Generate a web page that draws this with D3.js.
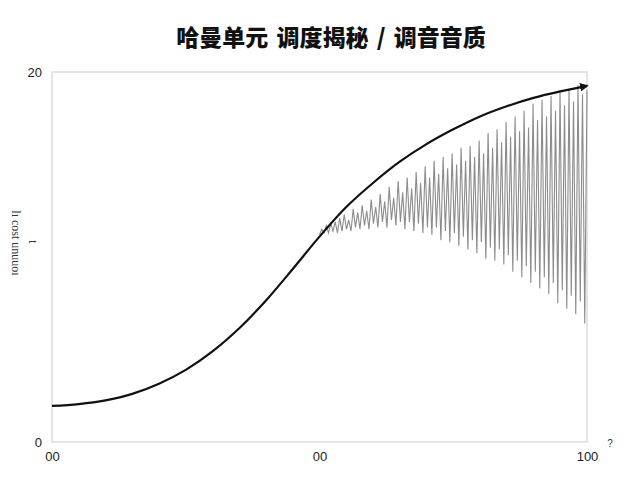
<!DOCTYPE html>
<html>
<head>
<meta charset="utf-8">
<script src="https://cdn.jsdelivr.net/npm/d3@7/dist/d3.min.js"></script>
<style>
  html, body { margin: 0; padding: 0; background: #fff; }
  svg { display: block; }
</style>
</head>
<body>
<svg id="chart" width="640" height="480"></svg>
<script>
// ---- data ----
const titleText = "哈曼单元 调度揭秘 / 调音音质";
const yAxisLabel = "lı cost unuuoı";
const yAxisSubLabel = "t";
const xTickValues = [0, 50, 100];
const xTickLabels = ["00", "00", "100"];
const yTickValues = [0, 20];
const yTickLabels = ["0", "20"];
const cornerMark = "?";

// smooth sigmoid-like black curve (x, y)
const curveX = [0, 5, 10, 15, 20, 25, 30, 35, 40, 45, 50, 55, 60, 65, 70, 75, 80, 85, 90, 95, 100];
const curveY = [1.95, 2.05, 2.25, 2.6, 3.15, 3.9, 4.9, 6.15, 7.65, 9.35, 11.1, 12.7, 14.0, 15.15, 16.1, 16.9, 17.6, 18.15, 18.6, 18.95, 19.25];

// oscillating grey series from x = 50 to x = 100
const oscY = [
  11.2, 11.5, 11.3, 11.7, 11.3, 11.8, 11.4, 11.9, 11.3, 12.1,
  11.4, 12.3, 11.5, 12.0, 11.4, 12.6, 11.6, 12.4, 11.5, 12.8,
  11.7, 12.5, 11.5, 13.1, 11.8, 12.7, 11.6, 13.4, 11.9, 13.0,
  11.6, 13.8, 12.0, 13.2, 11.7, 14.1, 11.9, 13.5, 11.5, 14.3,
  11.9, 13.7, 11.4, 14.6, 11.8, 14.0, 11.3, 14.9, 11.6, 14.3,
  11.2, 15.2, 11.6, 14.5, 10.9, 15.4, 11.4, 14.8, 10.8, 15.6,
  11.3, 15.0, 10.6, 15.9, 11.1, 15.2, 10.4, 16.0, 10.9, 15.4,
  10.2, 16.3, 10.8, 15.6, 9.9, 16.7, 10.5, 15.9, 9.8, 16.9,
  10.4, 16.2, 9.6, 17.3, 10.1, 16.5, 9.2, 17.6, 9.8, 16.8,
  8.9, 17.9, 9.5, 17.0, 8.6, 18.3, 9.2, 17.4, 8.3, 18.5,
  8.9, 17.6, 8.0, 18.7, 8.6, 17.9, 7.5, 19.0, 8.2, 18.2,
  7.2, 19.1, 7.9, 18.4, 6.9, 19.3, 7.6, 18.8, 6.4, 19.0
];
const oscStart = 50, oscEnd = 100;

// ---- layout ----
const svg = d3.select("#chart");
const plot = { left: 52, right: 587, top: 72, bottom: 442 };

const x = d3.scaleLinear().domain([0, 100]).range([plot.left, plot.right]);
const y = d3.scaleLinear().domain([0, 20]).range([plot.bottom, plot.top]);
const oscIndex = d3.scaleLinear().domain([0, oscY.length - 1]).range([oscStart, oscEnd]);

// title
svg.append("text")
  .attr("x", 331).attr("y", 46)
  .attr("text-anchor", "middle")
  .attr("font-family", "'Noto Sans CJK SC', sans-serif")
  .attr("font-weight", "900")
  .attr("font-size", 23)
  .attr("word-spacing", 3)
  .attr("fill", "#111")
  .text(titleText);

// plot frame
svg.append("rect")
  .attr("x", plot.left).attr("y", plot.top)
  .attr("width", plot.right - plot.left)
  .attr("height", plot.bottom - plot.top)
  .attr("fill", "none")
  .attr("stroke", "#dcdcdc")
  .attr("stroke-width", 1.5);

// axes (labels only)
const xAxis = d3.axisBottom(x).tickValues(xTickValues)
  .tickFormat((d, i) => xTickLabels[i]).tickSize(0).tickPadding(10);
const gx = svg.append("g").attr("transform", `translate(0,${plot.bottom})`).call(xAxis);
gx.select(".domain").remove();
gx.selectAll("text").attr("font-family", "'Liberation Sans', Arial, sans-serif")
  .attr("font-size", 13).attr("fill", "#222");

const yAxis = d3.axisLeft(y).tickValues(yTickValues)
  .tickFormat((d, i) => yTickLabels[i]).tickSize(0).tickPadding(10);
const gy = svg.append("g").attr("transform", `translate(${plot.left},0)`).call(yAxis);
gy.select(".domain").remove();
gy.selectAll("text").attr("font-family", "'Liberation Sans', Arial, sans-serif")
  .attr("font-size", 13).attr("fill", "#222");

// y axis label
svg.append("text")
  .attr("transform", "translate(12,243) rotate(90)")
  .attr("text-anchor", "middle")
  .attr("font-family", "'Liberation Serif', serif")
  .attr("font-size", 12)
  .attr("fill", "#333")
  .text(yAxisLabel);
svg.append("text")
  .attr("transform", "translate(29,242) rotate(90)")
  .attr("text-anchor", "middle")
  .attr("font-family", "'Liberation Serif', serif")
  .attr("font-size", 12)
  .attr("fill", "#333")
  .text(yAxisSubLabel);

svg.append("text")
  .attr("x", 610).attr("y", 447)
  .attr("text-anchor", "middle")
  .attr("font-family", "'Liberation Sans', Arial, sans-serif")
  .attr("font-size", 10)
  .attr("fill", "#333")
  .text(cornerMark);

// arrow marker
svg.append("defs").append("marker")
  .attr("id", "arrow")
  .attr("viewBox", "0 0 10 10")
  .attr("refX", 8).attr("refY", 5)
  .attr("markerWidth", 4).attr("markerHeight", 4)
  .attr("orient", "auto")
  .append("path").attr("d", "M0,0 L10,5 L0,10 z").attr("fill", "#111");

// oscillating grey line
const oscLine = d3.line()
  .x((d, i) => x(oscIndex(i)))
  .y(d => y(d));
svg.append("path")
  .datum(oscY)
  .attr("d", oscLine)
  .attr("fill", "none")
  .attr("stroke", "#8c8c8c")
  .attr("stroke-width", 1.1);

// black curve
const curveData = curveX.map((v, i) => [v, curveY[i]]);
const curveLine = d3.line()
  .x(d => x(d[0])).y(d => y(d[1]))
  .curve(d3.curveCatmullRom);
svg.append("path")
  .datum(curveData)
  .attr("d", curveLine)
  .attr("fill", "none")
  .attr("stroke", "#111")
  .attr("stroke-width", 2.2)
  .attr("marker-end", "url(#arrow)");
</script>
</body>
</html>
